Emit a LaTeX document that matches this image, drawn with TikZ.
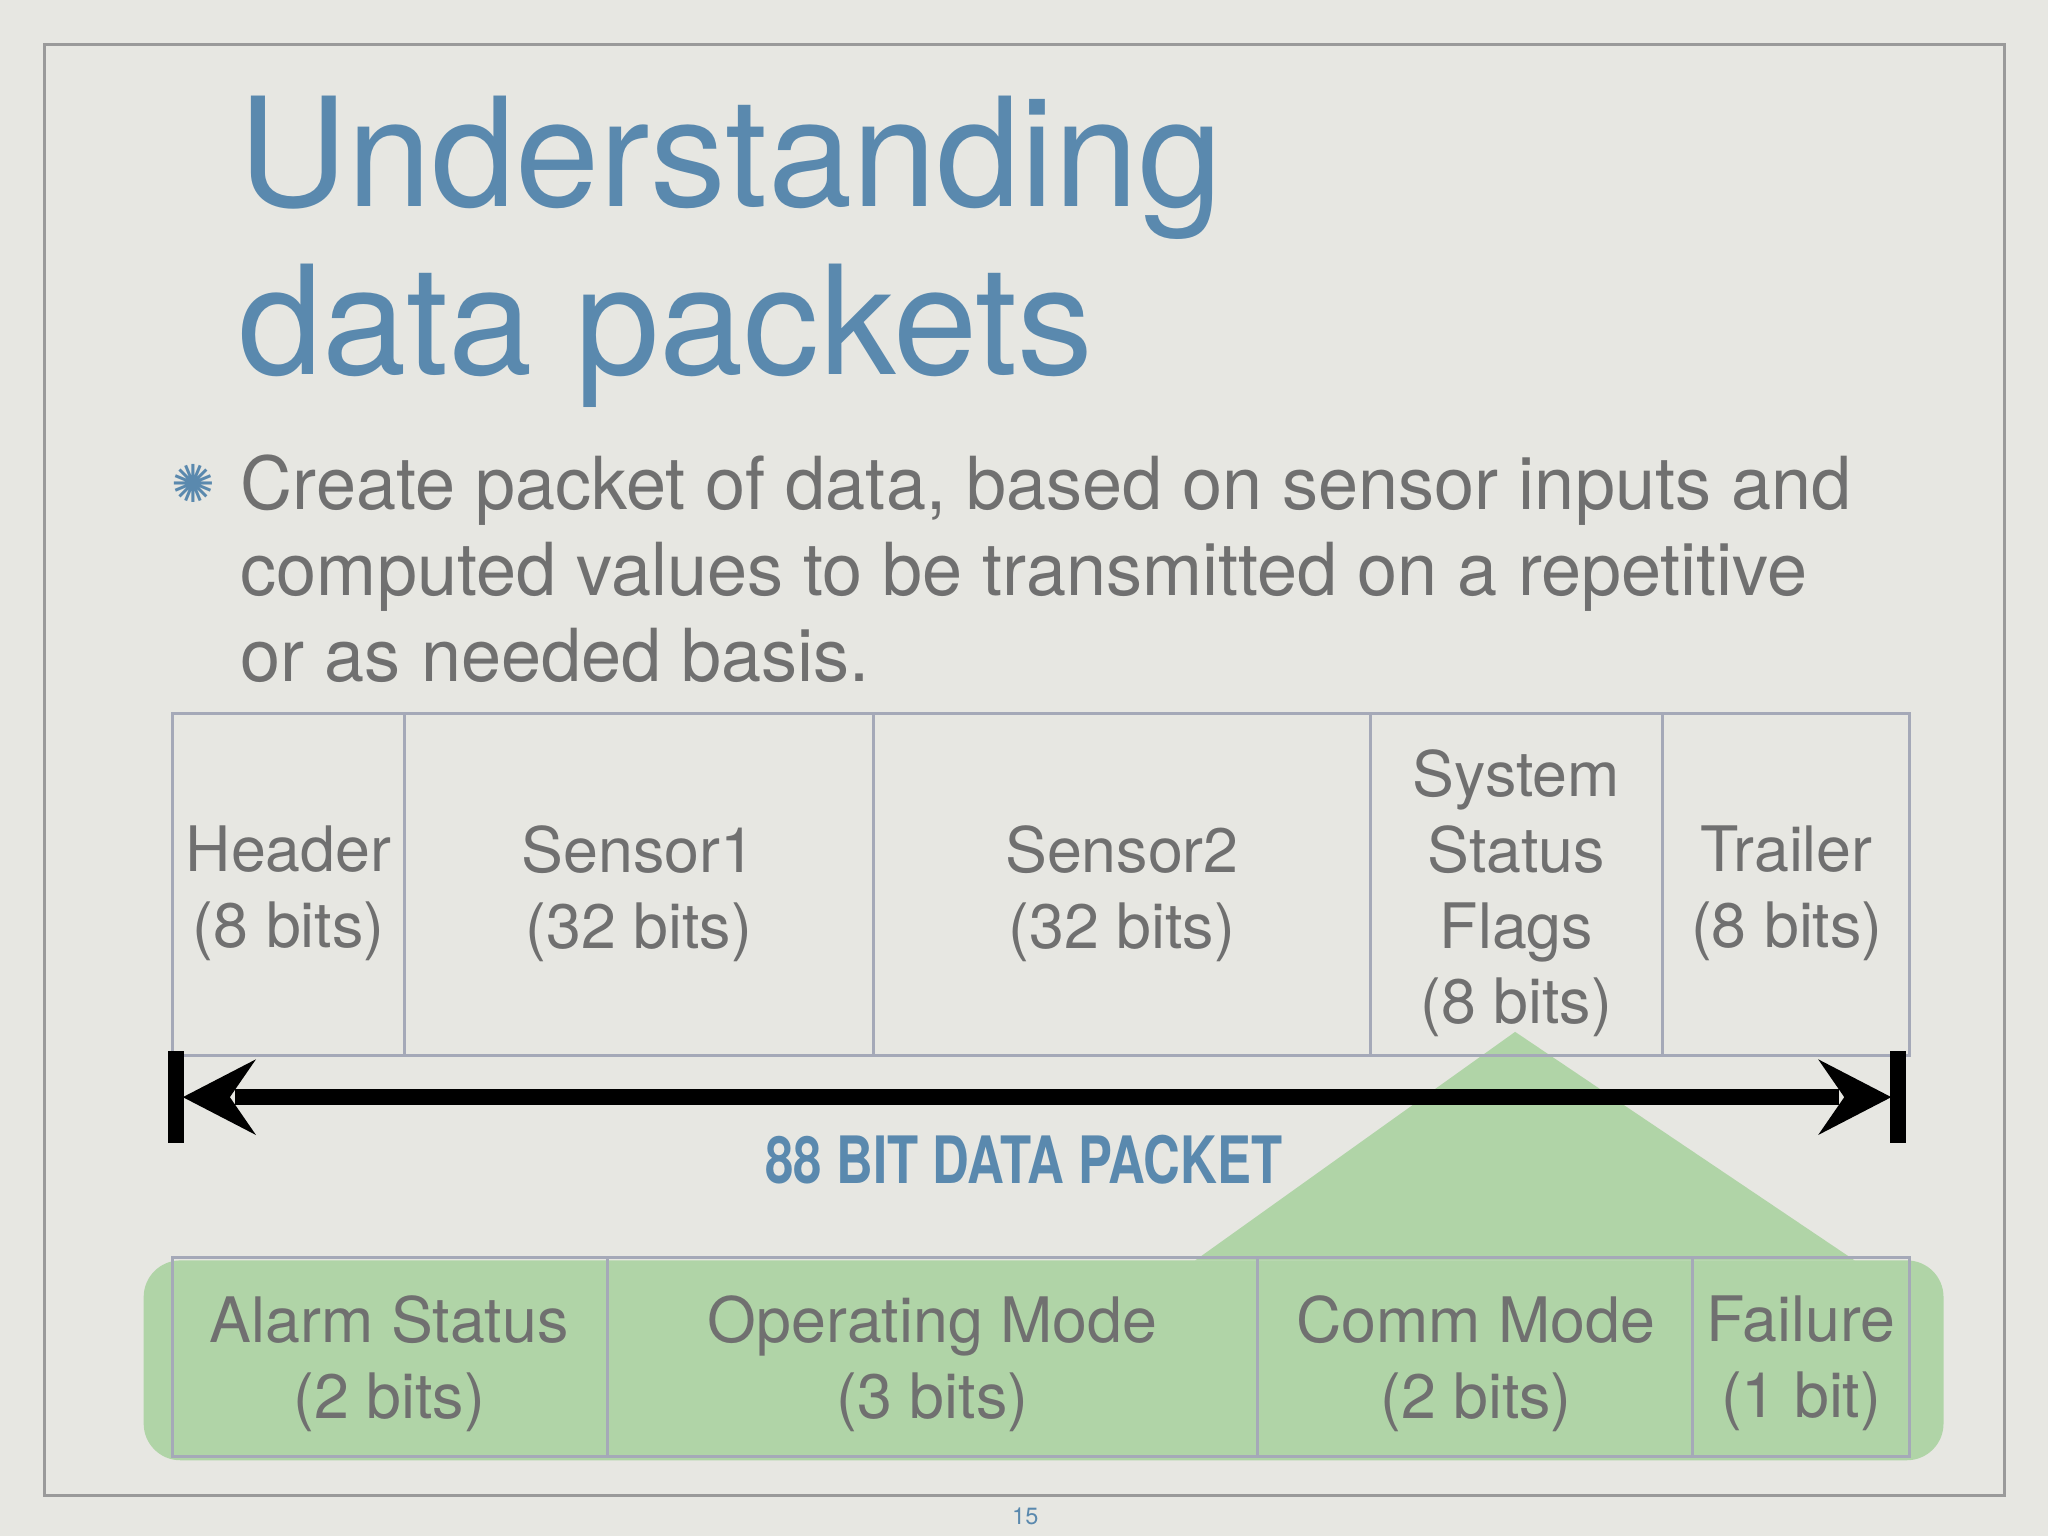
\documentclass[tikz,border=0pt]{standalone}
\usepackage{fontspec}
\setmainfont{TeX Gyre Heros}
\newfontfamily\symf{DejaVu Sans}
\usepackage{graphicx}
\definecolor{bg}{HTML}{E7E7E2}
\definecolor{ttl}{HTML}{5A89AE}
\definecolor{txt}{HTML}{707070}
\definecolor{grn}{HTML}{9ACD8F}
\definecolor{frm}{HTML}{9A9A9A}
\definecolor{cell}{HTML}{A5A9B8}
\tikzset{x=0.5pt,y=-0.5pt,
 lbl/.style={align=center,text=txt,font=\fontsize{24}{29}\selectfont,inner sep=0},
}
\begin{document}
\begin{tikzpicture}
\fill[bg] (0,0) rectangle (1568,1176);
\useasboundingbox (0,0) rectangle (1568,1176);
\draw[frm,line width=1.2pt] (34,34) rectangle (1535,1145);
\node[anchor=base west,text=ttl,font=\fontsize{58}{64}\selectfont,inner sep=0] (t1) at (182,158) {Understanding};
\node[anchor=base west,text=ttl,font=\fontsize{58}{64}\selectfont,inner sep=0] (t2) at (182,287) {data packets};
\node[text=ttl,font=\fontsize{20}{20}\symf,inner sep=0] (bul) at (148,370) {✺};
\foreach \s/\y/\n in {{Create packet of data, based on sensor inputs and}/390/a,{computed values to be transmitted on a repetitive}/456/b,{or as needed basis.}/522/c}
 \node[anchor=base west,text=txt,font=\fontsize{28}{30}\selectfont,inner sep=0] (l\n) at (184,\y) {\scalebox{0.985}[1]{\s}};
% green overlay
\fill[grn,opacity=0.7] (1160,790) -- (1420,965) -- (915,965) -- cycle;
\fill[grn,opacity=0.7,rounded corners=14pt] (110,965) rectangle (1488,1118);
% top table
\draw[cell,line width=1.2pt] (132,546) rectangle (1462,808);
\foreach \x in {310,669,1049,1273} \draw[cell,line width=1.2pt] (\x,546) -- (\x,808);
\node[lbl] (h) at (221,684) {Header\\(8 bits)};
\node[lbl] (s1) at (489,684) {Sensor1\\(32 bits)};
\node[lbl] (s2) at (859,684) {Sensor2\\(32 bits)};
\node[lbl] (ssf) at (1161,684) {System\\Status\\Flags\\(8 bits)};
\node[lbl] (tr) at (1368,684) {Trailer\\(8 bits)};
% arrow
\draw[line width=6pt] (135,805) -- (135,875);
\draw[line width=6pt] (1453,805) -- (1453,875);
\draw[line width=6pt] (180,840) -- (1408,840);
\fill (140,840) -- (196,811) -- (176,840) -- (196,869) -- cycle;
\fill (1448,840) -- (1392,811) -- (1412,840) -- (1392,869) -- cycle;
\node[text=ttl,font=\fontsize{25}{25}\selectfont\bfseries,inner sep=0] (lab) at (784,888) {\scalebox{0.78}[1]{88 BIT DATA PACKET}};
% bottom table
\draw[cell,line width=1.2pt] (132,963) rectangle (1462,1115);
\foreach \x in {465,963,1296} \draw[cell,line width=1.2pt] (\x,963) -- (\x,1115);
\node[lbl] (a) at (298,1044) {Alarm Status\\(2 bits)};
\node[lbl] (o) at (714,1044) {Operating Mode\\(3 bits)};
\node[lbl] (c) at (1130,1044) {Comm Mode\\(2 bits)};
\node[lbl] (f) at (1379,1044) {Failure\\(1 bit)};
\node[text=ttl,font=\fontsize{9}{9}\selectfont,inner sep=0] (pg) at (785,1161) {15};
\end{tikzpicture}
\end{document}
